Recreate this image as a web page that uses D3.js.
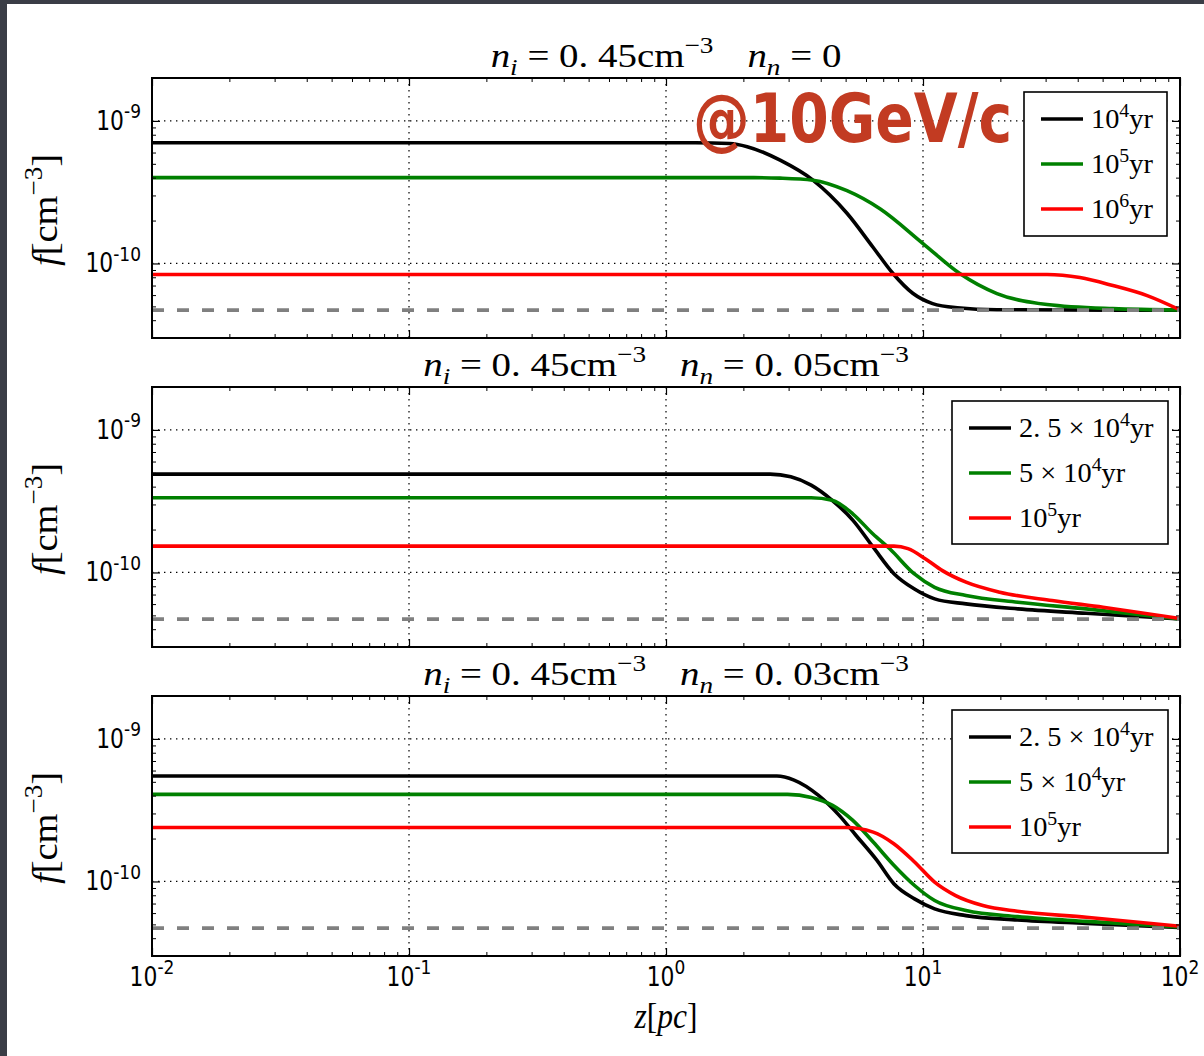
<!DOCTYPE html>
<html>
<head>
<meta charset="utf-8">
<script src="https://cdn.jsdelivr.net/npm/d3@7"></script>
<style>
  body { margin: 0; background: #3a3d46; }
  svg { display: block; }
</style>
</head>
<body>
<svg id="chart" width="1204" height="1056"></svg>
<script>
// ---- axis ranges and tick labels ----
const zDomain = [1e-2, 1e2];
const fDomain = [3e-11, 2e-9];
const zMajor = [1e-2, 1e-1, 1, 10, 100];
const zTickExponents = ["-2", "-1", "0", "1", "2"];
const fMajor = [1e-10, 1e-9];
const fTickExponents = ["-10", "-9"];
const backgroundDensity = 4.7e-11;   // grey dashed reference level

// ---- panel 1: n_i = 0.45 cm^-3, n_n = 0 ----  [z (pc), f (cm^-3)]
const nn0_1e4yr = [[0.01, 7.03e-10], [1.3, 7.03e-10], [1.77, 6.95e-10], [2.07, 6.6e-10], [2.78, 5.3e-10],
  [3.73, 3.84e-10], [5.06, 2.25e-10], [6.39, 1.30e-10], [7.64, 8.5e-11], [9.15, 6.15e-11],
  [10.9, 5.23e-11], [13.6, 4.89e-11], [19.4, 4.74e-11], [100, 4.7e-11]];
const nn0_1e5yr = [[0.01, 4.0e-10], [2.2, 4.0e-10], [2.78, 3.97e-10], [3.73, 3.84e-10], [5.06, 3.24e-10],
  [6.8, 2.42e-10], [10, 1.38e-10], [13.9, 8.5e-11], [19.4, 6.15e-11], [30.4, 5.15e-11],
  [54.8, 4.82e-11], [100, 4.72e-11]];
const nn0_1e6yr = [[0.01, 8.37e-11], [30.4, 8.37e-11], [40.8, 7.96e-11], [54.8, 7.0e-11],
  [74.5, 5.95e-11], [100, 4.72e-11]];

// ---- panel 2: n_n = 0.05 cm^-3 ----
const nn005_25e3yr = [[0.01, 4.9e-10], [2.54, 4.9e-10], [3.06, 4.69e-10], [3.67, 4.1e-10], [4.43, 3.21e-10],
  [5.34, 2.32e-10], [6.39, 1.51e-10], [7.71, 9.8e-11], [9.23, 7.68e-11], [11.1, 6.53e-11],
  [14.7, 6.02e-11], [23.4, 5.55e-11], [43.1, 5.17e-11], [100, 4.72e-11]];
const nn005_5e4yr = [[0.01, 3.34e-10], [3.67, 3.34e-10], [4.43, 3.21e-10], [5.34, 2.57e-10], [6.39, 1.86e-10],
  [7.44, 1.46e-10], [9.23, 9.8e-11], [11.1, 7.87e-11], [14.7, 6.89e-11], [23.4, 6.18e-11],
  [43.1, 5.55e-11], [100, 4.72e-11]];
const nn005_1e5yr = [[0.01, 1.53e-10], [7.71, 1.53e-10], [8.74, 1.47e-10], [10.2, 1.25e-10], [11.9, 1.03e-10],
  [14.7, 8.55e-11], [19.9, 7.27e-11], [31.8, 6.35e-11], [50.2, 5.7e-11], [100, 4.75e-11]];

// ---- panel 3: n_n = 0.03 cm^-3 ----
const nn003_25e3yr = [[0.01, 5.49e-10], [2.7, 5.49e-10], [3.15, 5.14e-10], [3.91, 4.03e-10], [4.71, 2.92e-10],
  [5.48, 2.11e-10], [6.61, 1.41e-10], [7.7, 9.64e-11], [9.27, 7.55e-11], [11.1, 6.42e-11],
  [14.7, 5.76e-11], [23.3, 5.37e-11], [43.2, 5.08e-11], [100, 4.75e-11]];
const nn003_5e4yr = [[0.01, 4.08e-10], [2.97, 4.08e-10], [3.68, 3.88e-10], [4.43, 3.43e-10], [5.32, 2.69e-10],
  [6.4, 1.89e-10], [7.7, 1.30e-10], [9.27, 9.37e-11], [11.1, 7.35e-11], [14.7, 6.25e-11],
  [23.3, 5.67e-11], [43.2, 5.25e-11], [100, 4.8e-11]];
const nn003_1e5yr = [[0.01, 2.39e-10], [5.0, 2.39e-10], [6.4, 2.22e-10], [7.7, 1.84e-10], [9.27, 1.37e-10],
  [11.1, 9.89e-11], [13.4, 7.96e-11], [17.1, 6.78e-11], [23.3, 6.18e-11], [43.2, 5.61e-11], [100, 4.85e-11]];

// ---- titles and legend labels (rich-text parts) ----
const titleNeutral = [["0"], ["0. 05cm", "−3"], ["0. 03cm", "−3"]];
const legendTop = [["10", "4"], ["10", "5"], ["10", "6"]];
const legendLower = [["2. 5 × 10", "4"], ["5 × 10", "4"], ["10", "5"]];
const seriesColors = ["#000000", "#008000", "#ff0000"];

const panels = [
  { series: [nn0_1e4yr, nn0_1e5yr, nn0_1e6yr], legend: legendTop, neutral: titleNeutral[0],
    box: { x0: 1024, x1: 1167, y0: 14, y1: 158 } },
  { series: [nn005_25e3yr, nn005_5e4yr, nn005_1e5yr], legend: legendLower, neutral: titleNeutral[1],
    box: { x0: 952, x1: 1168, y0: 14, y1: 157 } },
  { series: [nn003_25e3yr, nn003_5e4yr, nn003_1e5yr], legend: legendLower, neutral: titleNeutral[2],
    box: { x0: 952, x1: 1168, y0: 14, y1: 157 } }
];

// ---- layout ----
const LEFT = 152, RIGHT = 1180, PANEL_H = 260;
const panelTops = [78, 387, 696];
const SANS = "'DejaVu Sans', sans-serif";
const SERIF = "'Liberation Serif', 'DejaVu Serif', serif";

const svg = d3.select("#chart");
svg.append("rect").attr("x", 7).attr("y", 4).attr("width", 1197).attr("height", 1052).attr("fill", "#ffffff");

const x = d3.scaleLog().domain(zDomain).range([LEFT, RIGHT]);

// text with sub/superscripts, optionally squeezed horizontally
function rich(parent, px, py, parts, o) {
  const g = parent.append("g")
    .attr("transform", `translate(${px},${py})` + (o.rotate ? ` rotate(${o.rotate})` : "") + ` scale(${o.sx || 1},1)`);
  const t = g.append("text")
    .attr("font-family", o.family).attr("font-size", o.size)
    .attr("text-anchor", o.anchor || "start")
    .attr("fill", o.fill || "#000")
    .style("white-space", "pre");
  let cur = 0;
  parts.forEach(p => {
    const off = p.sup ? -o.size * (o.supRaise || 0.42) : p.sub ? o.size * 0.25 : 0;
    const ts = t.append("tspan").text(p.t).attr("dy", off - cur);
    if (p.dx) ts.attr("dx", p.dx);
    cur = off;
    if (p.sup || p.sub) ts.attr("font-size", o.size * (o.smallScale || 0.7));
    if (p.it) ts.attr("font-style", "italic");
  });
  return t;
}

function minorTicks(domain) {
  const out = [];
  for (let e = Math.floor(Math.log10(domain[0])); e <= Math.ceil(Math.log10(domain[1])); e++) {
    for (let m = 2; m <= 9; m++) {
      const v = m * Math.pow(10, e);
      if (v >= domain[0] * 0.999 && v <= domain[1] * 1.001) out.push(v);
    }
  }
  return out;
}
const zMinor = minorTicks(zDomain);
const fMinor = minorTicks(fDomain);

panels.forEach((panel, i) => {
  const top = panelTops[i];
  const bottom = top + PANEL_H;
  const y = d3.scaleLog().domain(fDomain).range([bottom, top]);
  const g = svg.append("g");

  const clipId = "clip" + i;
  g.append("clipPath").attr("id", clipId).append("rect")
    .attr("x", LEFT).attr("y", top).attr("width", RIGHT - LEFT).attr("height", PANEL_H);

  // dotted grid at the decades
  const grid = g.append("g").attr("stroke", "#000").attr("stroke-width", 1.2)
    .attr("stroke-dasharray", "1.4,4.6");
  grid.selectAll(".gx").data(zMajor.slice(1, -1)).join("line")
    .attr("x1", d => x(d)).attr("x2", d => x(d)).attr("y1", top).attr("y2", bottom);
  grid.selectAll(".gy").data(fMajor).join("line")
    .attr("x1", LEFT).attr("x2", RIGHT).attr("y1", d => y(d)).attr("y2", d => y(d));

  // curves
  const line = d3.line().x(d => x(d[0])).y(d => y(d[1])).curve(d3.curveMonotoneX);
  const curves = g.append("g").attr("clip-path", `url(#${clipId})`);
  panel.series.forEach((s, k) => {
    curves.append("path").datum(s).attr("d", line)
      .attr("fill", "none").attr("stroke", seriesColors[k]).attr("stroke-width", 3.6);
  });
  // grey dashed background level
  curves.append("line")
    .attr("x1", x(zDomain[0])).attr("x2", x(zDomain[1]))
    .attr("y1", y(backgroundDensity)).attr("y2", y(backgroundDensity))
    .attr("stroke", "#808080").attr("stroke-width", 3.8).attr("stroke-dasharray", "12,13");

  // inward ticks on all four sides
  const axes = [
    { a: d3.axisBottom(x), t: `translate(0,${bottom})`, major: zMajor, minor: zMinor },
    { a: d3.axisTop(x), t: `translate(0,${top})`, major: zMajor, minor: zMinor },
    { a: d3.axisLeft(y), t: `translate(${LEFT},0)`, major: fMajor, minor: fMinor },
    { a: d3.axisRight(y), t: `translate(${RIGHT},0)`, major: fMajor, minor: fMinor }
  ];
  axes.forEach(ax => {
    const gMaj = g.append("g").attr("transform", ax.t)
      .call(ax.a.tickValues(ax.major).tickSizeInner(-8).tickSizeOuter(0).tickFormat(""));
    gMaj.select(".domain").remove();
    gMaj.selectAll("line").attr("stroke-width", 1.2);
    const gMin = g.append("g").attr("transform", ax.t)
      .call(ax.a.tickValues(ax.minor).tickSizeInner(-4).tickSizeOuter(0).tickFormat(""));
    gMin.select(".domain").remove();
    gMin.selectAll("line").attr("stroke-width", 1);
  });

  // frame
  g.append("rect").attr("x", LEFT).attr("y", top).attr("width", RIGHT - LEFT).attr("height", PANEL_H)
    .attr("fill", "none").attr("stroke", "#000").attr("stroke-width", 2);

  // y tick labels
  fMajor.forEach((v, k) => {
    rich(g, 141, y(v) + 9, [{ t: "10" }, { t: fTickExponents[k], sup: true }],
      { family: SANS, size: 26, anchor: "end", sx: 0.84, supRaise: 0.45, smallScale: 0.78 });
  });

  // x tick labels on the lowest panel
  if (i === panels.length - 1) {
    zMajor.forEach((v, k) => {
      rich(g, x(v), bottom + 30, [{ t: "10" }, { t: zTickExponents[k], sup: true }],
        { family: SANS, size: 26, anchor: "middle", sx: 0.84, supRaise: 0.45, smallScale: 0.78 });
    });
    rich(g, (LEFT + RIGHT) / 2, bottom + 72, [{ t: "z", it: true }, { t: "[" }, { t: "pc", it: true }, { t: "]" }],
      { family: SERIF, size: 35, anchor: "middle", sx: 0.9 });
  }

  // y axis label
  rich(g, 57, top + PANEL_H / 2 + 2, [{ t: "f", it: true }, { t: "[cm" }, { t: "−3", sup: true }, { t: "]" }],
    { family: SERIF, size: 36, anchor: "middle", rotate: -90, sx: 1.07 });

  // panel title
  const tParts = [{ t: "n", it: true }, { t: "i", it: true, sub: true }, { t: " = 0. 45cm" }, { t: "−3", sup: true },
    { t: "   " }, { t: "n", it: true, dx: 4 }, { t: "n", it: true, sub: true }, { t: " = " + panel.neutral[0] }];
  if (panel.neutral[1]) tParts.push({ t: panel.neutral[1], sup: true });
  rich(g, (LEFT + RIGHT) / 2, top - 11, tParts, { family: SERIF, size: 33, anchor: "middle", sx: 1.18 });

  // legend
  const b = panel.box;
  const lg = g.append("g").attr("transform", `translate(0,${top})`);
  lg.append("rect").attr("x", b.x0).attr("y", b.y0).attr("width", b.x1 - b.x0).attr("height", b.y1 - b.y0)
    .attr("fill", "#fff").attr("stroke", "#000").attr("stroke-width", 1.6);
  panel.legend.forEach((lab, k) => {
    const ry = b.y0 + 27 + k * 45;
    lg.append("line").attr("x1", b.x0 + 17).attr("x2", b.x0 + 59).attr("y1", ry).attr("y2", ry)
      .attr("stroke", seriesColors[k]).attr("stroke-width", 3.6);
    rich(lg, b.x0 + 67, ry + 9, [{ t: lab[0] }, { t: lab[1], sup: true }, { t: "yr" }],
      { family: SERIF, size: 27, anchor: "start", sx: 1.05 });
  });
});

// energy annotation, squeezed horizontally by a transform
svg.append("g")
  .attr("transform", "translate(693,142) scale(0.835,1)")
  .append("text")
  .attr("x", 0).attr("y", 0)
  .attr("font-family", "'DejaVu Sans', sans-serif").attr("font-weight", "bold")
  .attr("font-size", 68).attr("fill", "#c23b22")
  .text("@10GeV/c");
</script>
</body>
</html>
